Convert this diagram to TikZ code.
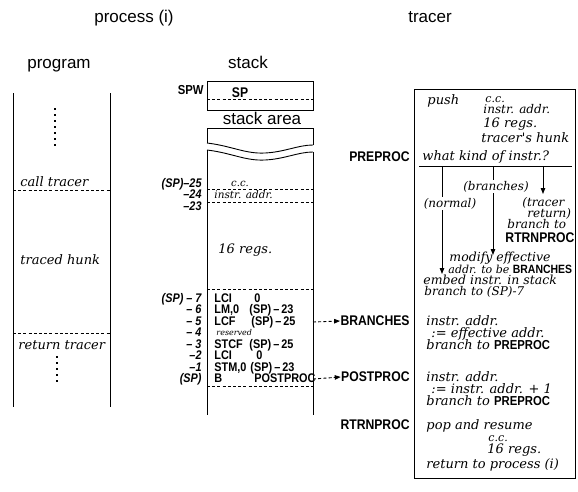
\documentclass[tikz,border=0pt]{standalone}
\usepackage{fontspec}
\newfontfamily\titlef{Liberation Sans}
\newfontfamily\condfam[FakeStretch=0.87]{Liberation Sans}
\newfontfamily\hand{DejaVu Serif}
\usetikzlibrary{arrows.meta}
\begin{document}
\begin{tikzpicture}[x=1pt,y=-1pt,line width=0.9pt,
  ttl/.style={font=\titlef\fontsize{17}{17}\selectfont, inner sep=0pt, anchor=base},
  lbl/.style={font=\condfam\bfseries\fontsize{14}{14}\selectfont, inner sep=0pt},
  ins/.style={font=\condfam\bfseries\fontsize{12.5}{12.5}\selectfont, inner sep=0pt, anchor=base west},
  off/.style={font=\condfam\bfseries\itshape\fontsize{12.5}{12.5}\selectfont, inner sep=0pt, anchor=base east},
  hw/.style={font=\hand\itshape\fontsize{13}{13}\selectfont, inner sep=0pt, anchor=base west},
  dsh/.style={dash pattern=on 3pt off 2.2pt},
  arr/.style={-{Triangle[length=6pt,width=4.5pt]}},
  vdots/.style={line width=1.8pt, dash pattern=on 2.4pt off 3.6pt}]
\useasboundingbox (0,0) rectangle (578,491);
\newcommand\bsf[1]{{\upshape\condfam\bfseries #1}}

% titles
\node[ttl] (tproc) at (134,22) {process (i)};
\node[ttl] (ttrac) at (430,22) {tracer};
\node[ttl] (tprog) at (59,68) {program};
\node[ttl] (tstack) at (248,68) {stack};

% ---------- program column ----------
\draw (13,93) -- (13,407);
\draw (110,93) -- (110,407);
\draw[vdots] (55,108) -- (55,146);
\node[hw] (call) at (20,186) {call tracer};
\draw[dsh] (13,190) -- (110,190);
\node[hw] (hunk) at (20,264) {traced hunk};
\draw[dsh] (13,333) -- (110,333);
\node[hw] (ret) at (18,349) {return tracer};
\draw[vdots] (57,356) -- (57,383);

% ---------- stack ----------
\node[lbl, anchor=base east, font=\condfam\bfseries\fontsize{13}{13}\selectfont] (spw) at (204,94) {SPW};
\draw (207,81) rectangle (313,110);
\draw[dsh] (207,99) -- (313,99);
\node[lbl, anchor=base] (sp) at (240,97) {SP};
\node[ttl] (sarea) at (262,124) {stack area};
% broken (wavy) stack area
\draw (207,143) -- (207,128) -- (313,128) -- (313,145);
\draw (207,143) .. controls (232,146) and (245,154) .. (265,153) .. controls (285,152) and (298,145) .. (313,145);
\draw (207,150) .. controls (232,153) and (245,161) .. (265,160) .. controls (285,159) and (298,152) .. (313,152);
\draw (207,150) -- (207,415);
\draw (313,152) -- (313,415);

% cells
\node[font=\hand\itshape\fontsize{10}{10}\selectfont, inner sep=0pt, anchor=base] (cc) at (240,186) {c.c.};
\draw[dsh] (207,189) -- (313,189);
\node[font=\hand\itshape\fontsize{10.5}{10.5}\selectfont, inner sep=0pt, anchor=base west] (ia) at (214,198) {instr. addr.};
\draw[dsh] (207,202) -- (313,202);
\node[hw] (regs) at (218,253) {16 regs.};
\draw[dsh] (207,289) -- (313,289);
\draw[dsh] (207,386) -- (313,386);

% offsets
\node[off] (o25) at (202,187.5) {(SP)–25};
\node[off] (o24) at (202,198.5) {–24};
\node[off] (o23) at (202,210) {–23};
\node[off] (o7) at (202,302) {(SP) – 7};
\node[off] (o6) at (202,313.5) {– 6};
\node[off] (o5) at (202,325) {– 5};
\node[off] (o4) at (202,336.5) {– 4};
\node[off] (o3) at (202,348) {– 3};
\node[off] (o2) at (202,359.5) {–2};
\node[off] (o1) at (202,371) {–1};
\node[off] (o0) at (202,382.5) {(SP)};

% instructions
\node[ins] (i7a) at (214,302) {LCI};
\node[ins] (i7b) at (254,302) {0};
\node[ins] (i6a) at (214,313.5) {LM,0};
\node[ins] (i6b) at (249,313.5) {(SP)\,–\,23};
\node[ins] (i5a) at (214,325) {LCF};
\node[ins] (i5b) at (251,325) {(SP)\,–\,25};
\node[font=\hand\itshape\fontsize{8}{8}\selectfont, inner sep=0pt, anchor=base west] (i4) at (216,335) {reserved};
\node[ins] (i3a) at (214,348) {STCF};
\node[ins] (i3b) at (249,348) {(SP)\,–\,25};
\node[ins] (i2a) at (214,359.5) {LCI};
\node[ins] (i2b) at (256,359.5) {0};
\node[ins] (i1a) at (214,371) {STM,0};
\node[ins] (i1b) at (250,371) {(SP)\,–\,23};
\node[ins] (i0a) at (214,382.5) {B};
\node[ins] (i0b) at (254,382.5) {POSTPROC};

% ---------- tracer ----------
\draw (414,89) rectangle (575,478);
\node[lbl, anchor=east] (pre) at (410,157) {PREPROC};
\node[lbl, anchor=east] (brl) at (410,321) {BRANCHES};
\node[lbl, anchor=east] (pol) at (410,377) {POSTPROC};
\node[lbl, anchor=east] (rtl) at (410,425) {RTRNPROC};

\coordinate (s5) at (313,322);
\coordinate (s0) at (313,379);
\draw[dsh, arr] (s5) -- (brl.west);
\draw[dsh, arr] (s0) -- (pol.west);

\node[hw] (push) at (427,104) {push};
\node[hw, font=\hand\itshape\fontsize{11}{11}\selectfont] (p1) at (485,102) {c.c.};
\node[hw, font=\hand\itshape\fontsize{12}{12}\selectfont] (p2) at (483,113) {instr. addr.};
\node[hw] (p3) at (483,127) {16 regs.};
\node[hw] (p4) at (481,142) {tracer's hunk};
\node[hw] (what) at (422,160) {what kind of instr.?};
\coordinate (ul1) at (419,166);
\coordinate (ul2) at (572,166);
\draw (ul1) -- (ul2);

\coordinate (t1) at (442,166);
\coordinate (t2) at (493,166);
\coordinate (t3) at (543,166);
\coordinate (e1) at (442,274);
\coordinate (e2) at (493,255);
\coordinate (e3) at (543,194);
\draw[arr] (t1) -- (e1);
\draw[arr] (t2) -- (e2);
\draw[arr] (t3) -- (e3);
\node[hw, font=\hand\itshape\fontsize{12}{12}\selectfont, fill=white, inner sep=1pt, anchor=base] (lbr) at (496,190) {(branches)};
\node[hw, font=\hand\itshape\fontsize{12}{12}\selectfont, fill=white, inner sep=1pt, anchor=base] (lno) at (450,207) {(normal)};
\node[hw, font=\hand\itshape\fontsize{12}{12}\selectfont] (ltr) at (522,206) {(tracer};
\node[hw, font=\hand\itshape\fontsize{12}{12}\selectfont] (lre) at (527,217) {return)};
\node[hw, font=\hand\itshape\fontsize{12}{12}\selectfont] (lbt) at (507,228) {branch to};
\node[lbl, anchor=base west] (lrt) at (505,242) {RTRNPROC};

\node[hw, font=\hand\itshape\fontsize{12.5}{12.5}\selectfont] (m1) at (449,261) {modify effective};
\node[hw, font=\hand\itshape\fontsize{11}{11}\selectfont] (m2) at (448,273) {addr. to be \bsf{\fontsize{12}{12}\selectfont BRANCHES}};
\node[hw, font=\hand\itshape\fontsize{12.5}{12.5}\selectfont] (m3) at (423,284.5) {embed instr. in stack};
\node[hw, font=\hand\itshape\fontsize{12}{12}\selectfont] (m4) at (424,295) {branch to (SP)-7};

\node[hw] (b1) at (426,325) {instr. addr.};
\node[hw] (b2) at (431,337) {:= effective addr.};
\node[hw] (b3) at (426,349) {branch to \bsf{PREPROC}};

\node[hw] (q1) at (426,381) {instr. addr.};
\node[hw] (q2) at (431,393) {:= instr. addr. + 1};
\node[hw] (q3) at (426,405) {branch to \bsf{PREPROC}};

\node[hw] (r1) at (426,429) {pop and resume};
\node[hw, font=\hand\itshape\fontsize{11}{11}\selectfont] (r2) at (488,441) {c.c.};
\node[hw] (r3) at (487,453) {16 regs.};
\node[hw] (r4) at (426,468) {return to process (i)};
\end{tikzpicture}
\end{document}
